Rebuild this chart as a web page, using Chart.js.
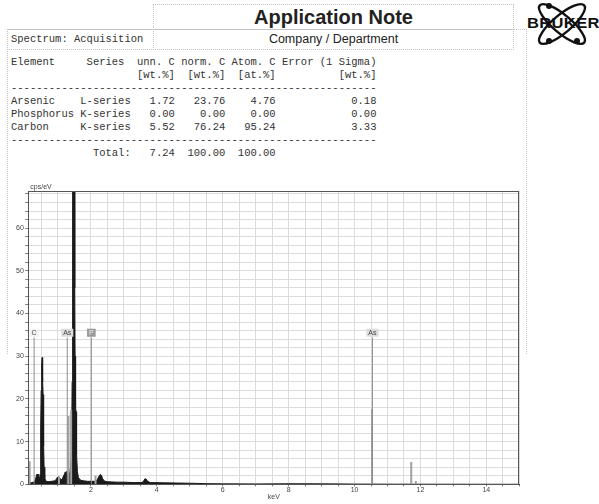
<!DOCTYPE html>
<html><head><meta charset="utf-8">
<script src="https://cdn.jsdelivr.net/npm/chart.js@4.4.1/dist/chart.umd.min.js"></script>
<style>
html,body{margin:0;padding:0;background:#fff}
body{width:599px;height:504px;position:relative;overflow:hidden;font-family:"Liberation Sans",Arial,sans-serif}
.box{position:absolute;border:1px dotted #c4c4c4;box-sizing:border-box}
.mono{position:absolute;font-family:"Liberation Mono","Courier New",monospace;font-size:10.5px;color:#333;white-space:pre;line-height:13px}
#wrap{position:absolute;left:0;top:176px;width:540px;height:328px}
</style></head>
<body>
<div class="box" style="left:153px;top:4px;width:361px;height:26px;border-bottom:none"></div>
<div class="box" style="left:153px;top:29px;width:361px;height:21px"></div>
<div class="box" style="left:7px;top:29px;width:147px;height:21px"></div>
<div class="box" style="left:7px;top:29px;width:520px;height:325px;border-bottom:none"></div>
<div style="position:absolute;left:153px;top:5px;width:361px;text-align:center;font-weight:bold;font-size:20px;line-height:24px;color:#222">Application Note</div>
<div style="position:absolute;left:153px;top:31px;width:361px;text-align:center;font-size:12.5px;line-height:16px;color:#222">Company / Department</div>
<div class="mono" style="left:11px;top:33px">Spectrum: Acquisition</div>
<div id="table" class="mono" style="left:11px;top:56px"></div>
<svg style="position:absolute;left:527px;top:0px" width="72" height="50">
 <g fill="none" stroke="#111" stroke-width="2.4">
  <ellipse cx="35" cy="24" rx="29" ry="9" transform="rotate(40 35 24)"/>
  <ellipse cx="35" cy="24" rx="29" ry="9" transform="rotate(-40 35 24)"/>
 </g>
 <g fill="#111"><circle cx="22" cy="6" r="3"/><circle cx="50" cy="41" r="3"/><circle cx="22" cy="41" r="3"/></g>
</svg>
<div style="position:absolute;left:527px;top:14px;font-weight:bold;font-size:14px;line-height:18px;color:#111;transform:scaleX(1.18);transform-origin:0 0;letter-spacing:0.3px">BRUKER</div>
<div id="wrap"><canvas id="c"></canvas></div>
<script>
// ---- table data ----
const tableElements = ['Arsenic', 'Phosphorus', 'Carbon'];
const tableSeries = ['L-series', 'K-series', 'K-series'];
const tableUnn = ['1.72', '0.00', '5.52'];
const tableNorm = ['23.76', '0.00', '76.24'];
const tableAtom = ['4.76', '0.00', '95.24'];
const tableErr = ['0.18', '0.00', '3.33'];
const tableTotal = ['7.24', '100.00', '100.00'];

// ---- spectrum data (keV, cps/eV) ----
const spectrumKeV = [0.10,0.14,0.20,0.26,0.30,0.33,0.35,0.37,0.39,0.41,0.43,0.45,0.46,0.47,0.48,0.49,0.50,0.51,0.52,0.53,0.54,0.55,0.56,0.57,0.58,0.60,0.63,0.70,0.80,0.90,0.95,0.98,1.00,1.02,1.05,1.08,1.10,1.14,1.17,1.20,1.22,1.24,1.26,1.28,1.30,1.33,1.36,1.38,1.40,1.42,1.43,1.44,1.45,1.50,1.51,1.52,1.53,1.54,1.55,1.56,1.57,1.59,1.62,1.66,1.70,1.80,1.90,2.00,2.10,2.18,2.22,2.26,2.29,2.32,2.35,2.40,2.50,2.80,3.00,3.30,3.55,3.60,3.64,3.68,3.72,3.80,4.20,4.60,5.00,5.50,6.00,7.00,8.00,9.00,10.00,11.00,15.00];
const spectrumCps = [0.3,0.4,0.4,0.5,0.8,1.5,2.2,2.4,2.0,2.3,1.6,1.2,2.5,5,13,22,25,28,29.7,27,24,21,14,9,4,1.5,0.8,0.6,0.7,0.8,1.2,1.6,1.4,1.8,1.5,1.2,1.0,1.4,2.0,2.4,2.9,2.6,3.0,2.2,1.8,2.0,2.8,4,6,14,24,42,95,95,46,30,21,18,17,12,7,3,1.6,1.2,0.9,0.8,0.7,0.7,0.7,0.9,1.5,2.1,2.3,2.1,1.4,0.8,0.6,0.5,0.5,0.4,0.4,0.8,1.3,1.2,0.7,0.4,0.35,0.3,0.25,0.15,0.1,0.08,0.12,0.1,0.05,0.03,0];

// ---- element line intensities (grey) ----
const lineKeV = [0.14, 1.03, 1.32, 1.40, 2.14, 10.53, 11.72, 11.86];
const lineCps = [5.4, 1.9, 16.0, 17.4, 2.0, 17.6, 5.2, 0.8];

// ---- element markers ----
const markerLabels = ['C', 'As', 'P', 'As'];
const markerKeV = [0.277, 1.282, 2.013, 10.543];
const markerHeight = [34.4, 34.4, 34.4, 34.4];
const markerLabelLevel = 35.5;

// ---- axes ----
const xTickLabels = [2, 4, 6, 8, 10, 12, 14];
const yTickLabels = [0, 10, 20, 30, 40, 50, 60];
const xMin = 0.1, xMax = 15.0, xGridStep = 0.5;
const yMin = 0, yMax = 68.7, yGridStep = 2;

// build table text
const L = [];
L.push('Element'.padEnd(12) + 'Series'.padEnd(8) + 'unn. C norm. C Atom. C Error (1 Sigma)');
L.push(' '.repeat(20) + '[wt.%]  [wt.%]  [at.%]' + ' '.repeat(10) + '[wt.%]');
L.push('-'.repeat(58));
for (let i = 0; i < tableElements.length; i++) {
  L.push(tableElements[i].padEnd(11) + tableSeries[i].padEnd(9) + tableUnn[i].padStart(6) +
    tableNorm[i].padStart(8) + tableAtom[i].padStart(8) + tableErr[i].padStart(16));
}
L.push('-'.repeat(58));
L.push(' '.repeat(13) + 'Total: ' + tableTotal[0].padStart(6) + tableTotal[1].padStart(8) + tableTotal[2].padStart(8));
document.getElementById('table').textContent = L.join('\n');

// datasets
const specData = spectrumKeV.map((k, i) => ({x: k, y: spectrumCps[i]}));
const lineData = [];
lineKeV.forEach((k, i) => { lineData.push({x: k, y: 0}, {x: k, y: lineCps[i]}, {x: k, y: null}); });
const markData = [];
markerKeV.forEach((k, i) => { markData.push({x: k, y: 0}, {x: k, y: markerHeight[i]}, {x: k, y: null}); });

const boxFill = {C: '#f2f2f2', As: '#dcdcdc', P: '#9a9a9a'};
const boxText = {C: '#444', As: '#444', P: '#eee'};

const decor = {
  id: 'decor',
  afterDatasetsDraw(chart) {
    const {ctx, chartArea: a, scales: {x, y}} = chart;
    ctx.save();
    ctx.strokeStyle = '#555';
    ctx.lineWidth = 1;
    ctx.strokeRect(Math.round(a.left) + 0.5, Math.round(a.top) + 0.5, Math.round(a.right - a.left) - 1, Math.round(a.bottom - a.top));
    ctx.font = '7px "Liberation Sans", Arial, sans-serif';
    ctx.textAlign = 'center';
    ctx.textBaseline = 'middle';
    markerLabels.forEach((t, i) => {
      const px = x.getPixelForValue(markerKeV[i]);
      const py = y.getPixelForValue(markerLabelLevel);
      const w = ctx.measureText(t).width + 4;
      ctx.fillStyle = boxFill[t];
      ctx.fillRect(px - w / 2, py - 4, w, 8);
      ctx.fillStyle = boxText[t];
      ctx.fillText(t, px, py + 0.5);
    });
    ctx.fillStyle = '#444';
    ctx.textAlign = 'left';
    ctx.textBaseline = 'bottom';
    ctx.fillText('cps/eV', a.left + 2, a.top - 0.5);
    ctx.restore();
  }
};

const fontS = {family: '"Liberation Sans", Arial, sans-serif', size: 7};
new Chart(document.getElementById('c'), {
  type: 'line',
  data: {
    datasets: [
      {data: markData, borderColor: '#8c8c8c', borderWidth: 1, pointRadius: 0, spanGaps: false, order: 0},
      {data: lineData, borderColor: '#a0a0a0', borderWidth: 2, pointRadius: 0, spanGaps: false, order: 1},
      {data: specData, borderColor: '#1a1a1a', backgroundColor: '#1a1a1a', borderWidth: 1, pointRadius: 0, fill: 'origin', tension: 0, order: 2}
    ]
  },
  options: {
    responsive: true, maintainAspectRatio: false, animation: false,
    layout: {padding: {left: 0, top: 15, right: 20.7, bottom: 0}},
    plugins: {legend: {display: false}, tooltip: {enabled: false}},
    scales: {
      x: {
        type: 'linear', min: xMin, max: xMax,
        afterBuildTicks(s) { const t = []; for (let v = xGridStep; v <= xMax + 1e-9; v += xGridStep) t.push({value: +v.toFixed(2)}); s.ticks = t; },
        afterFit(s) { s.height = 19.7; },
        ticks: {autoSkip: false, maxRotation: 0, padding: 0, color: '#444', font: fontS,
          callback: v => xTickLabels.includes(+v.toFixed(2)) ? String(v) : ''},
        grid: {color: '#dcdcdc', lineWidth: 1, tickLength: 2, tickColor: '#777'},
        border: {color: '#444'},
        title: {display: true, text: 'keV', color: '#444', font: fontS, padding: {top: 0, bottom: 2.8}}
      },
      y: {
        type: 'linear', min: yMin, max: yMax,
        afterBuildTicks(s) { const t = []; for (let v = yMin; v <= yMax; v += yGridStep) t.push({value: v}); s.ticks = t; },
        afterFit(s) { s.width = 28.3; },
        ticks: {autoSkip: false, padding: 1.5, color: '#444', font: fontS,
          callback: v => yTickLabels.includes(v) ? String(v) : ''},
        grid: {color: '#dcdcdc', lineWidth: 1, tickLength: 3, tickColor: '#777'},
        border: {color: '#444'}
      }
    }
  },
  plugins: [decor]
});
</script>
</body></html>
